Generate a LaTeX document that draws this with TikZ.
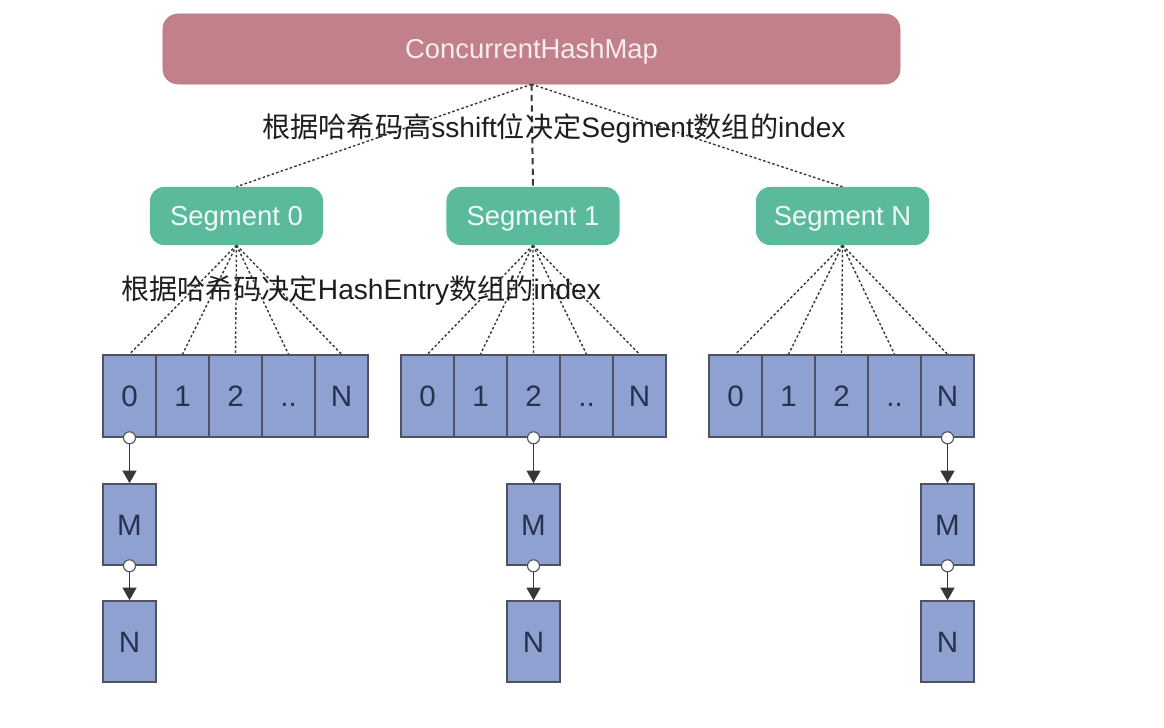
\documentclass[tikz,border=0pt]{standalone}
\usepackage{fontspec}
\setmainfont{Liberation Sans}
\newfontfamily\cjk{Noto Sans CJK SC}
\usetikzlibrary{arrows.meta}
\definecolor{mapred}{RGB}{193,128,138}
\definecolor{maptext}{RGB}{248,236,238}
\definecolor{segteal}{RGB}{92,186,156}
\definecolor{segtext}{RGB}{240,250,246}
\definecolor{cellblue}{RGB}{143,161,208}
\definecolor{cellline}{RGB}{80,82,95}
\definecolor{celltext}{RGB}{40,50,78}
\definecolor{linegray}{RGB}{55,55,55}
\definecolor{lbltext}{RGB}{30,30,30}
\tikzset{
  mapbox/.style={fill=mapred, draw=mapred!95!black, line width=0.4pt, rounded corners=0.375cm,
    minimum width=18.425cm, minimum height=1.75cm, inner sep=0pt,
    text height=14pt, text depth=0pt,
    text=maptext, font=\fontsize{19.5}{22}\selectfont},
  segbox/.style={fill=segteal, rounded corners=0.35cm,
    minimum width=4.325cm, minimum height=1.45cm, inner sep=0pt,
    text height=14pt, text depth=0pt,
    text=segtext, font=\fontsize{19.5}{22}\selectfont},
  cell/.style={fill=cellblue, draw=cellline, line width=1.1pt,
    minimum width=1.325cm, minimum height=2.05cm, inner sep=0pt,
    text height=15.1pt, text depth=0pt,
    text=celltext, font=\fontsize{21}{24}\selectfont},
  chainbox/.style={cell, minimum height=2.025cm},
  dotline/.style={draw=linegray, line width=1pt, dash pattern=on 1.8pt off 1.6pt},
  dashline/.style={draw=linegray, line width=1.4pt, dash pattern=on 4.5pt off 3pt},
  lbl/.style={text=lbltext, inner sep=0pt, font=\fontsize{20}{23}\selectfont},
  ring/.style={circle, draw=cellline, fill=white, line width=0.8pt, minimum size=0.3cm, inner sep=0pt},
  chainarrow/.style={draw=linegray, line width=1pt, -{Triangle[width=10pt,length=9pt]}}
}
\begin{document}
\begin{tikzpicture}[x=0.025cm,y=-0.025cm]
\useasboundingbox (0,0) rectangle (1164,728);
\fill[white] (0,0) rectangle (1164,728);

\node[mapbox] (map) at (531.5,49) {ConcurrentHashMap};

\node[segbox] (seg0) at (236.5,216) {Segment 0};
\node[segbox] (seg1) at (533,216) {Segment 1};
\node[segbox] (seg2) at (842.5,216) {Segment N};

\draw[dotline] (map.south) -- (seg0.north);
\draw[dashline] (map.south) -- (seg1.north);
\draw[dotline] (map.south) -- (seg2.north);

\node[lbl] (lab1) at (554,129) {{\cjk 根据哈希码高}sshift{\cjk 位决定}Segment{\cjk 数组的}index};

\foreach \a/\x in {0/129.5,1/427.5,2/735.5} {
  \foreach \k/\t in {0/0,1/1,2/2,3/{..},4/N} {
    \node[cell] (a\a c\k) at (\x+53*\k,396) {\t};
    \draw[dotline] (seg\a.south) -- (a\a c\k.north);
  }
}

\node[lbl] (lab2) at (361,291) {{\cjk 根据哈希码决定}HashEntry{\cjk 数组的}index};

% chains
\node[chainbox] (m0) at (129.5,524.5) {M};
\node[chainbox] (n0) at (129.5,641.5) {N};
\node[chainbox] (m1) at (533.5,524.5) {M};
\node[chainbox] (n1) at (533.5,641.5) {N};
\node[chainbox] (m2) at (947.5,524.5) {M};
\node[chainbox] (n2) at (947.5,641.5) {N};

\node[ring] (r0a) at (a0c0.south) {};
\node[ring] (r0b) at (m0.south) {};
\node[ring] (r1a) at (a1c2.south) {};
\node[ring] (r1b) at (m1.south) {};
\node[ring] (r2a) at (a2c4.south) {};
\node[ring] (r2b) at (m2.south) {};

\draw[chainarrow] (r0a) -- (m0);
\draw[chainarrow] (r0b) -- (n0);
\draw[chainarrow] (r1a) -- (m1);
\draw[chainarrow] (r1b) -- (n1);
\draw[chainarrow] (r2a) -- (m2);
\draw[chainarrow] (r2b) -- (n2);
\end{tikzpicture}
\end{document}
